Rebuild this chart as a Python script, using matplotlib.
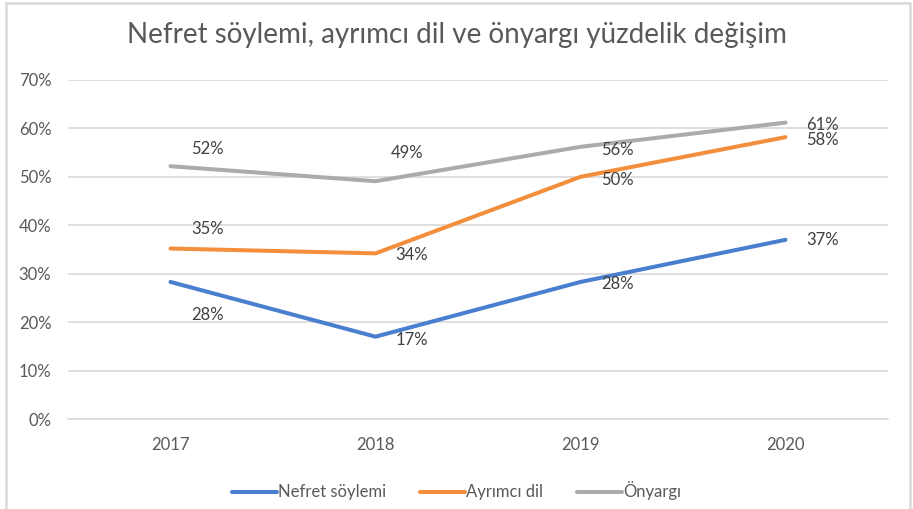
import matplotlib
matplotlib.use('Agg')
import matplotlib.pyplot as plt
from matplotlib.patches import Rectangle

plt.rcParams['font.family'] = ['Lato', 'DejaVu Sans']

# data
years = ['2017', '2018', '2019', '2020']
nefret = [0.283, 0.170, 0.283, 0.370]
ayrimci = [0.352, 0.342, 0.500, 0.582]
onyargi = [0.522, 0.491, 0.562, 0.612]
series_names = ['Nefret söylemi', 'Ayrımcı dil', 'Önyargı']

colors = ['#4A7ECF', '#F28E3C', '#ABABAB']

# label offsets in pixels (dx, dy) for each series / point
offsets = [
    [(37, -33), (36, -3), (37, -2), (37, 0)],
    [(37, 20), (36, -2), (37, -3), (37, -3)],
    [(37, 17), (32, 28), (37, -3), (37, -2)],
]

fig = plt.figure(figsize=(9.13, 5.09), dpi=100)
ax = fig.add_axes([68 / 913, 1 - 419 / 509, 820 / 913, 339 / 509])

x = range(len(years))
all_series = [nefret, ayrimci, onyargi]
for vals, name, col, offs in zip(all_series, series_names, colors, offsets):
    ax.plot(x, vals, color=col, lw=2.9, label=name, solid_capstyle='round')
    for xi, v, (dx, dy) in zip(x, vals, offs):
        ax.annotate(f'{round(v * 100):.0f}%', (xi, v), xytext=(dx, dy),
                    textcoords='offset pixels', ha='center', va='center',
                    fontsize=12, color='#404040')

ax.set_xlim(-0.5, 3.5)
ax.set_ylim(0, 0.7)
ax.set_yticks([i / 10 for i in range(8)])
ax.set_yticklabels([f'{i * 10}%' for i in range(8)])
ax.set_xticks(list(x))
ax.set_xticklabels(years)
ax.tick_params(length=0, labelsize=12, labelcolor='#595959')
ax.tick_params(axis='y', pad=12)
ax.tick_params(axis='x', pad=13)
ax.grid(axis='y', color='#D9D9D9', lw=1.2)
ax.set_axisbelow(True)
for s in ['top', 'right', 'left']:
    ax.spines[s].set_visible(False)
ax.spines['bottom'].set_color('#D9D9D9')
ax.spines['bottom'].set_linewidth(1.2)

fig.text(0.5, 1 - 35 / 509, 'Nefret söylemi, ayrımcı dil ve önyargı yüzdelik değişim',
         ha='center', va='center', fontsize=20, color='#595959')

fig.legend(loc='center', bbox_to_anchor=(0.5, 1 - 491 / 509), ncol=3,
           frameon=False, fontsize=12, handlelength=2.7, handletextpad=0.1,
           columnspacing=2.0, labelcolor='#595959')

fig.patches.append(Rectangle((6 / 913, -0.01), 904 / 913, 1 - 3 / 509 + 0.01,
                             transform=fig.transFigure, fill=False,
                             edgecolor='#D9D9D9', lw=1.8))

fig.savefig('out.png', dpi=100)
